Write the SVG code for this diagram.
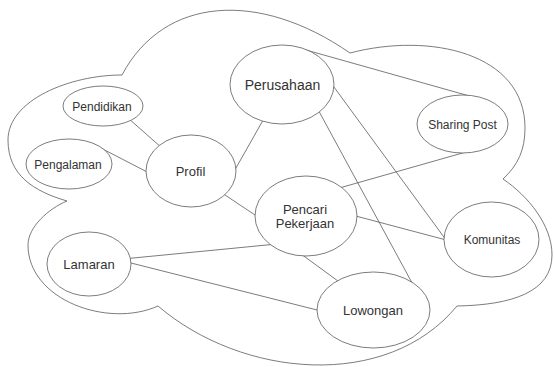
<svg xmlns="http://www.w3.org/2000/svg" width="554" height="367" viewBox="0 0 554 367">
  <style>
    .cloud { fill: #ffffff; stroke: #5a5a5a; stroke-width: 0.8; }
    .edge { stroke: #5a5a5a; stroke-width: 0.8; fill: none; }
    .node ellipse { fill: #ffffff; stroke: #5a5a5a; stroke-width: 0.8; }
    .node text { font-family: "Liberation Sans", Arial, sans-serif; fill: #333333; text-anchor: middle; }
    .s12 { font-size: 12px; }
    .s13 { font-size: 13px; }
    .s14 { font-size: 14px; }
  </style>
  <rect width="554" height="367" fill="#ffffff"/>

  <!-- outer cloud boundary -->
  <path id="cloud" class="cloud" d="M122,75 C164,-4 259,-10 350,53 C430,32 525,53 525,128 C525,150 518,165 503,179 C528,196 552,225 552,255 C552,292 512,305 457,306 C387,391 242,378 158,306 C108,328.5 28,300 28,245 C28,227 48.6,208.6 67,201 C33.4,191.2 8,175 8,140 C8,100 70,75 122,75 Z"/>

  <!-- connectors (drawn beneath the nodes) -->
  <g id="connectors">
    <line class="edge" x1="128" y1="118" x2="162" y2="148"/>
    <line class="edge" x1="93" y1="144" x2="152" y2="174.5"/>
    <line class="edge" x1="234" y1="171.5" x2="264" y2="118.5"/>
    <line class="edge" x1="222.5" y1="193.3" x2="257.5" y2="216.7"/>
    <line class="edge" x1="306" y1="50" x2="468" y2="95.6"/>
    <line class="edge" x1="318" y1="109.5" x2="414" y2="286.5"/>
    <line class="edge" x1="331" y1="83" x2="449" y2="244"/>
    <line class="edge" x1="466" y1="152" x2="338" y2="188.4"/>
    <line class="edge" x1="352" y1="215" x2="450" y2="241"/>
    <line class="edge" x1="302" y1="254.7" x2="342" y2="284"/>
    <line class="edge" x1="128" y1="258.5" x2="274" y2="244.3"/>
    <line class="edge" x1="127" y1="262" x2="321" y2="311"/>
  </g>

  <g id="pendidikan" class="node">
    <ellipse cx="103" cy="106" rx="40" ry="20"/>
    <text class="s12" x="102" y="110.5">Pendidikan</text>
  </g>
  <g id="pengalaman" class="node">
    <ellipse cx="69" cy="164" rx="43" ry="25"/>
    <text class="s12" x="68" y="168.5">Pengalaman</text>
  </g>
  <g id="profil" class="node">
    <ellipse cx="191" cy="171" rx="45" ry="36"/>
    <text class="s13" x="190.5" y="175.5">Profil</text>
  </g>
  <g id="perusahaan" class="node">
    <ellipse cx="282" cy="84.5" rx="52" ry="39.5"/>
    <text class="s14" x="282.5" y="90">Perusahaan</text>
  </g>
  <g id="sharing-post" class="node">
    <ellipse cx="462.5" cy="124" rx="45.5" ry="29"/>
    <text class="s12" x="462.5" y="128.5">Sharing Post</text>
  </g>
  <g id="pencari-pekerjaan" class="node">
    <ellipse cx="306" cy="216" rx="51" ry="40"/>
    <text class="s13" x="305" y="213.5">Pencari</text>
    <text class="s13" x="305" y="228">Pekerjaan</text>
  </g>
  <g id="komunitas" class="node">
    <ellipse cx="491.5" cy="239.5" rx="47.5" ry="37.5"/>
    <text class="s12" x="492" y="244">Komunitas</text>
  </g>
  <g id="lamaran" class="node">
    <ellipse cx="89" cy="264" rx="42" ry="32"/>
    <text class="s13" x="89" y="268.5">Lamaran</text>
  </g>
  <g id="lowongan" class="node">
    <ellipse cx="373.5" cy="310" rx="56.5" ry="38"/>
    <text class="s13" x="373" y="314.5">Lowongan</text>
  </g>
</svg>
